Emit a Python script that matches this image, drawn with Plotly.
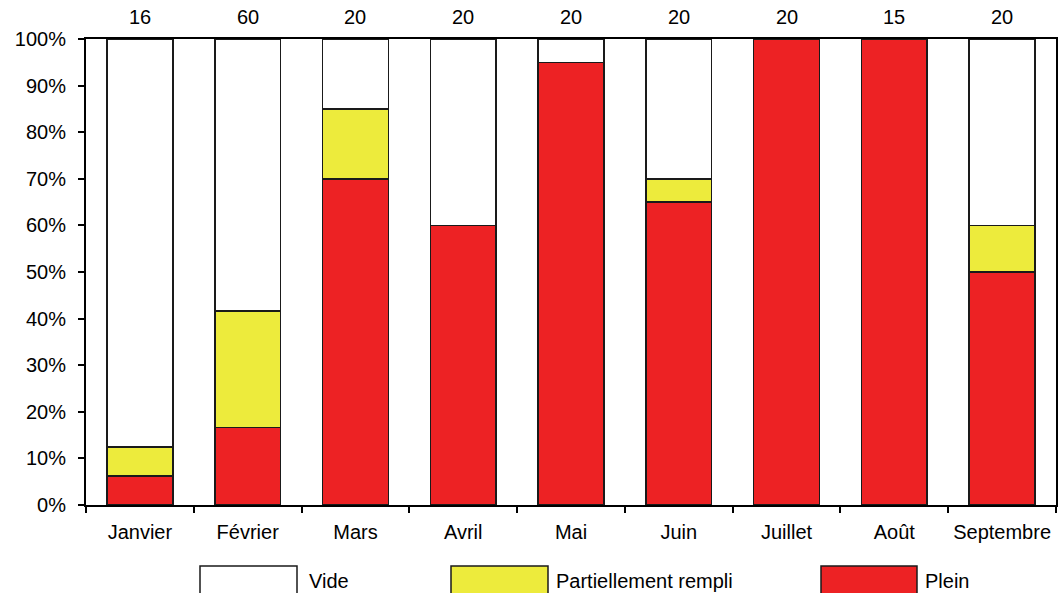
import plotly.graph_objects as go

# Monthly counts of containers by fill state
mois = ["Janvier", "Février", "Mars", "Avril", "Mai", "Juin", "Juillet", "Août", "Septembre"]
total = [16, 60, 20, 20, 20, 20, 20, 15, 20]
plein = [1, 10, 14, 12, 19, 13, 20, 15, 10]
partiel = [1, 15, 3, 0, 0, 1, 0, 0, 2]
vide = [t - p - q for t, p, q in zip(total, plein, partiel)]

pct = lambda counts: [100.0 * c / t for c, t in zip(counts, total)]

COL_PLEIN = "#ED2224"
COL_PARTIEL = "#EDEB3C"
COL_VIDE = "#FFFFFF"
EDGE = "#1a1a1a"
FONT = "Liberation Sans, Arial, sans-serif"
FS = 20

W, H = 1063, 593
L, R, T, B = 86, 7, 39, 88
PW, PH = W - L - R, H - T - B


def px_x(x):
    return (x - L) / PW


def px_y(y):
    return (H - B - y) / PH


fig = go.Figure()
for name, counts, col in [("Plein", plein, COL_PLEIN),
                          ("Partiellement rempli", partiel, COL_PARTIEL),
                          ("Vide", vide, COL_VIDE)]:
    fig.add_trace(go.Bar(
        x=mois, y=pct(counts), name=name,
        marker=dict(color=col, line=dict(color=EDGE, width=1.5)),
        showlegend=False,
    ))

# sample sizes above each bar
for m, t in zip(mois, total):
    fig.add_annotation(x=m, y=px_y(17), xref="x", yref="paper", text=str(t),
                       showarrow=False, yanchor="middle",
                       font=dict(family=FONT, size=FS, color="#000"))

# legend drawn below the axis as large swatches
legend_items = [("Vide", COL_VIDE, 200, 297, 307),
                ("Partiellement rempli", COL_PARTIEL, 451, 548, 554),
                ("Plein", COL_PLEIN, 821, 917, 923)]
for label, col, x0, x1, tx in legend_items:
    fig.add_shape(type="rect", xref="paper", yref="paper",
                  x0=px_x(x0), x1=px_x(x1), y0=px_y(566), y1=px_y(605),
                  fillcolor=col, line=dict(color=EDGE, width=1.5))
    fig.add_annotation(x=px_x(tx), y=px_y(581), xref="paper", yref="paper",
                       text=label, showarrow=False, xanchor="left", yanchor="middle",
                       font=dict(family=FONT, size=FS, color="#000"))

fig.update_layout(
    width=W, height=H,
    margin=dict(l=L, r=R, t=T, b=B, autoexpand=False),
    barmode="stack", bargap=0.39,
    plot_bgcolor="#fff", paper_bgcolor="#fff",
    font=dict(family=FONT, size=FS, color="#000"),
)
fig.update_xaxes(
    showline=True, linecolor="#000", linewidth=2, mirror=True,
    ticks="outside", ticklen=6, tickcolor="#000", tickwidth=1.5,
    tickson="boundaries", showgrid=False, ticklabelstandoff=8,
    tickangle=0,
)
fig.update_yaxes(
    range=[0, 100], tickvals=list(range(0, 101, 10)),
    ticktext=[f"{v}%" for v in range(0, 101, 10)],
    showline=True, linecolor="#000", linewidth=2, mirror=True,
    ticks="outside", ticklen=6, tickcolor="#000", tickwidth=1.5,
    showgrid=False, zeroline=False, ticklabelstandoff=8,
)

fig.write_html("out.html")
